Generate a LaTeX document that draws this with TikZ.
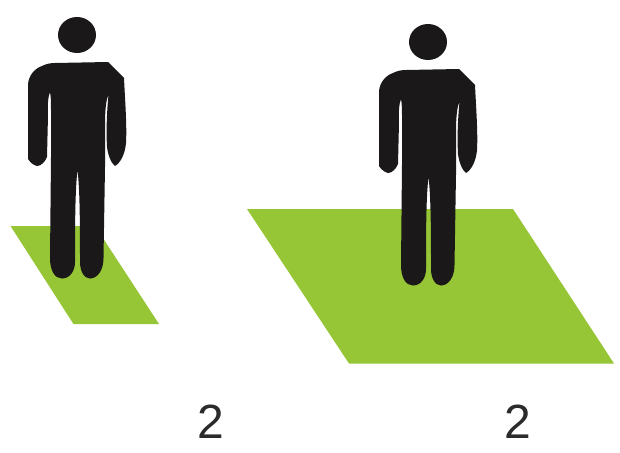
\documentclass[tikz,border=0pt]{standalone}
\usepackage{fontspec}
\setmainfont{Liberation Sans}
\definecolor{figblack}{HTML}{1A1819}
\definecolor{floorgreen}{HTML}{96C636}
\definecolor{digitgray}{HTML}{2B2B2B}

\tikzset{
  floor/.style={fill=floorgreen},
  digit/.style={font=\fontsize{48}{48}\selectfont, text=digitgray},
  figureman/.pic={
    \fill[figblack] (77,35) ellipse (19 and 18);
    \fill[figblack] (55,63) -- (108,62) -- (124,78)
      .. controls (125,100) and (127,125) .. (126,143)
      .. controls (125,155) and (120,163) .. (115,166)
      .. controls (111,163) and (108,155) .. (107,147)
      .. controls (106,130) and (107,110) .. (108.5,95)
      .. controls (106,100) and (105,110) .. (105,125)
      -- (105,167) -- (103.5,258)
      .. controls (103.5,271) and (97,278.5) .. (90,278.5)
      .. controls (84,278.5) and (80,271) .. (80,262)
      .. controls (80,230) and (80,190) .. (77.5,170)
      .. controls (75,190) and (75,230) .. (75,262)
      .. controls (75,271) and (70,278.5) .. (62,278.5)
      .. controls (55,278.5) and (50,271) .. (50,258)
      -- (51,157) -- (51,110)
      .. controls (51,103) and (51,97) .. (50,92)
      .. controls (48,97) and (47.5,105) .. (48,115)
      -- (47,157)
      .. controls (45,162) and (41,166) .. (37,166)
      .. controls (33,165) and (30,162) .. (28,159)
      -- (28,84)
      .. controls (29,74) and (36,68) .. (42,66)
      .. controls (46,64) and (50,63) .. (55,63) -- cycle;
  },
}

\begin{document}
\begin{tikzpicture}[x=1pt, y=-1pt]

  % Background
  \useasboundingbox (0,0) rectangle (620,452);
  \fill[white] (0,0) rectangle (620,452);

  % === Small floor ===
  \fill[floor] (10.5,226) -- (95,226) -- (159,324) -- (73.5,324) -- cycle;
  \pic at (0,0) {figureman};

  % === Large floor ===
  \fill[floor] (247,209) -- (513,209) -- (614,363.5) -- (349,363.5) -- cycle;
  \pic at (351,7) {figureman};

  % Labels
  \node[digit] (leftdigit) at (211,422) {2};
  \node[digit] (rightdigit) at (518,422) {2};

\end{tikzpicture}
\end{document}
